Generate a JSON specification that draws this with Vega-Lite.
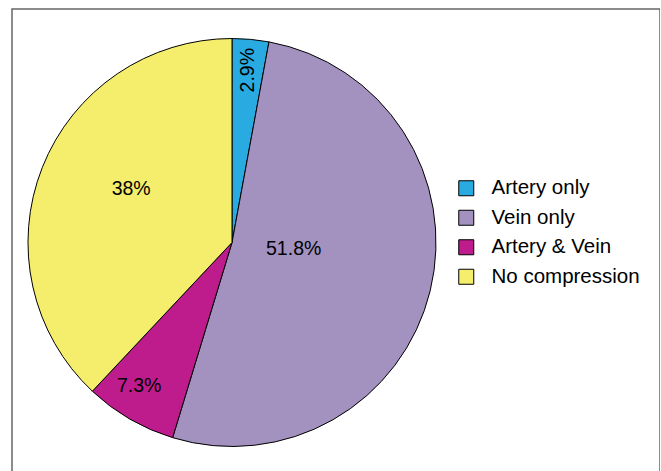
{
  "$schema": "https://vega.github.io/schema/vega-lite/v6.json",
  "width": 648,
  "height": 470,
  "autosize": {"type": "none"},
  "padding": {"left": 12, "top": 9, "right": 0, "bottom": 0},
  "background": "white",
  "view": {"stroke": "#666666", "strokeWidth": 1.5, "fill": "white"},
  "config": {
    "font": "Liberation Sans"
  },
  "data": {
    "values": [
      {"category": "Artery only", "value": 2.9, "label": "2.9%", "k": 1},
      {"category": "Vein only", "value": 51.8, "label": "51.8%", "k": 2},
      {"category": "Artery & Vein", "value": 7.3, "label": "7.3%", "k": 3},
      {"category": "No compression", "value": 38, "label": "38%", "k": 4}
    ]
  },
  "encoding": {
    "theta": {"field": "value", "type": "quantitative", "stack": true},
    "order": {"field": "k", "type": "quantitative"}
  },
  "layer": [
    {
      "mark": {"type": "arc", "radius": 204, "x": 220, "y": 233.5, "stroke": "black", "strokeWidth": 1},
      "encoding": {
        "color": {
          "field": "category",
          "type": "nominal",
          "sort": ["Artery only", "Vein only", "Artery & Vein", "No compression"],
          "scale": {
            "domain": ["Artery only", "Vein only", "Artery & Vein", "No compression"],
            "range": ["#29abe2", "#a392bf", "#be1b8c", "#f5ee6c"]
          },
          "legend": {
            "title": null,
            "orient": "none",
            "legendX": 444,
            "legendY": 169,
            "padding": 0,
            "symbolType": "square",
            "symbolSize": 225,
            "symbolStrokeColor": "black",
            "symbolStrokeWidth": 1,
            "symbolOpacity": 1,
            "labelFont": "Liberation Sans",
            "labelFontSize": 20.5,
            "labelColor": "black",
            "labelOffset": 15,
            "rowPadding": 8.5
          }
        }
      }
    },
    {
      "mark": {"type": "text", "radius": 173, "x": 220, "y": 233.5, "angle": 270, "fontSize": 19.5, "font": "Liberation Sans", "fill": "black", "align": "center", "baseline": "middle"},
      "encoding": {
        "detail": {"field": "category", "type": "nominal"},
        "text": {"condition": {"test": "datum.category === 'Artery only'", "field": "label", "type": "nominal"}, "value": ""}
      }
    },
    {
      "mark": {"type": "text", "radius": 62, "thetaOffset": -0.134, "x": 220, "y": 233.5, "fontSize": 19.5, "font": "Liberation Sans", "fill": "black", "align": "center", "baseline": "middle"},
      "encoding": {
        "detail": {"field": "category", "type": "nominal"},
        "text": {"condition": {"test": "datum.category === 'Vein only'", "field": "label", "type": "nominal"}, "value": ""}
      }
    },
    {
      "mark": {"type": "text", "radius": 171, "thetaOffset": 0.049, "x": 220, "y": 233.5, "fontSize": 19.5, "font": "Liberation Sans", "fill": "black", "align": "center", "baseline": "middle"},
      "encoding": {
        "detail": {"field": "category", "type": "nominal"},
        "text": {"condition": {"test": "datum.category === 'Artery & Vein'", "field": "label", "type": "nominal"}, "value": ""}
      }
    },
    {
      "mark": {"type": "text", "radius": 114, "thetaOffset": 0.108, "x": 220, "y": 233.5, "fontSize": 19.5, "font": "Liberation Sans", "fill": "black", "align": "center", "baseline": "middle"},
      "encoding": {
        "detail": {"field": "category", "type": "nominal"},
        "text": {"condition": {"test": "datum.category === 'No compression'", "field": "label", "type": "nominal"}, "value": ""}
      }
    }
  ]
}
